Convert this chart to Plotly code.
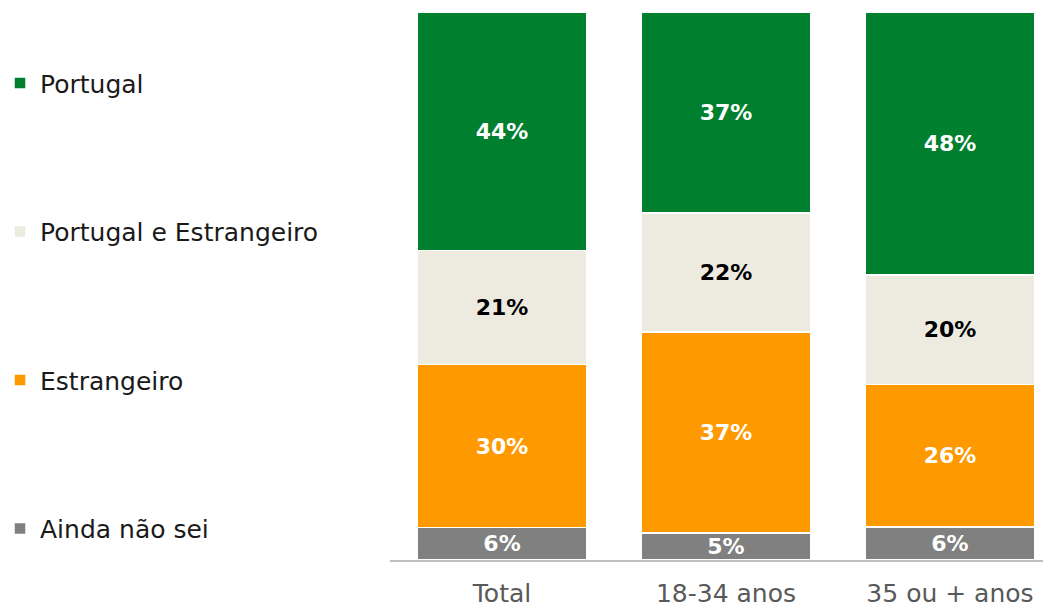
import plotly.graph_objects as go

categories = ["Total", "18-34 anos", "35 ou + anos"]
series_names = ["Ainda não sei", "Estrangeiro", "Portugal e Estrangeiro", "Portugal"]
ainda = [6, 5, 6]
estrangeiro = [30, 37, 26]
pt_estr = [21, 22, 20]
portugal = [44, 37, 48]
series_values = [ainda, estrangeiro, pt_estr, portugal]
colors = ["#808080", "#FF9900", "#EDEBE0", "#00802F"]
text_colors = ["white", "white", "black", "white"]
legend_ranks = [4, 3, 2, 1]

FONT = "DejaVu Sans"
LABEL_FONT = "DejaVu Sans"

fig = go.Figure()
for name, vals, col, tcol, rk in zip(series_names, series_values, colors, text_colors, legend_ranks):
    fig.add_trace(go.Bar(
        x=categories, y=vals, name=name, legendgroup=name, legendrank=rk,
        marker=dict(color=col, line=dict(color="white", width=1.5)),
        text=[f"{v}%" for v in vals], textposition="inside",
        insidetextanchor="middle", textangle=0, constraintext="none",
        textfont=dict(family=LABEL_FONT, size=22, color=tcol, weight="bold"),
        width=0.755,
    ))

fig.update_layout(
    barmode="stack", barnorm="percent",
    width=1043, height=601,
    margin=dict(l=382, r=0, t=4, b=49, autoexpand=False),
    plot_bgcolor="white", paper_bgcolor="white",
    font=dict(family=FONT, size=25, color="#595959"),
    showlegend=True,
    legend=dict(
        x=-0.59, xanchor="left", y=0.912, yanchor="top",
        traceorder="grouped", tracegroupgap=113,
        font=dict(family=FONT, size=25, color="#1a1a1a"),
        itemwidth=30, bgcolor="rgba(0,0,0,0)",
    ),
    xaxis=dict(
        range=[-0.5, 2.451], showline=True, linecolor="#BFBFBF", linewidth=1.5,
        ticks="outside", tickcolor="rgba(0,0,0,0)", ticklen=10,
        showgrid=False, tickfont=dict(family=FONT, size=25, color="#595959"),
    ),
    yaxis=dict(range=[0, 100], visible=False, showgrid=False),
)

fig.write_html("out.html")
